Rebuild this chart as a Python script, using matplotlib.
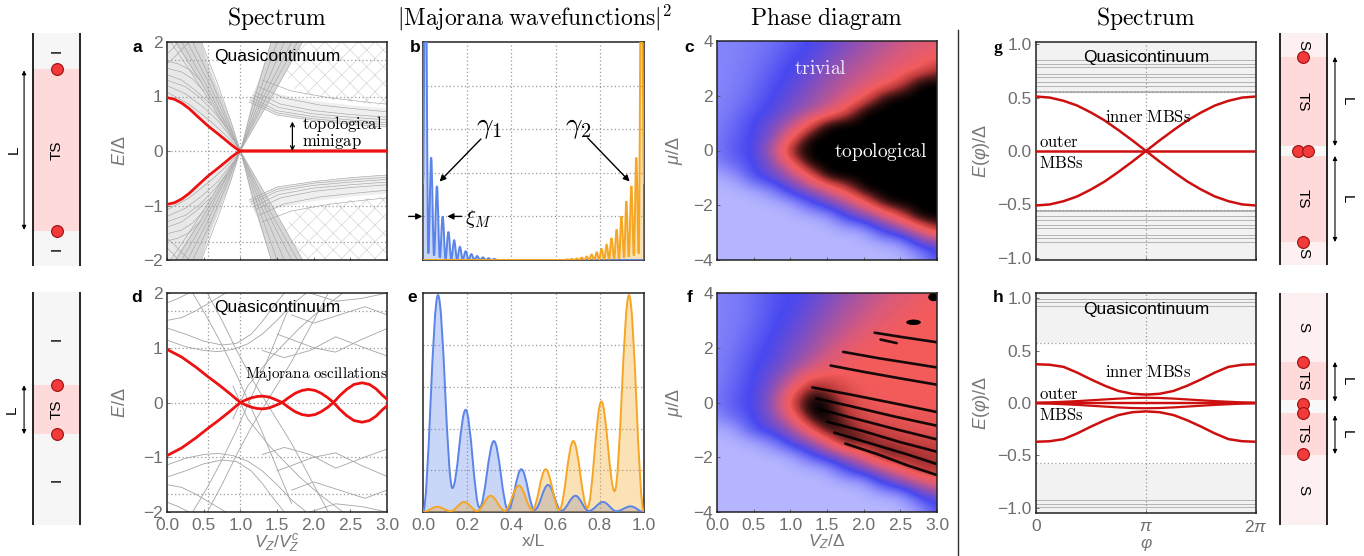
import numpy as np
import matplotlib
matplotlib.use("Agg")
import matplotlib.pyplot as plt
from matplotlib.patches import Polygon, PathPatch, Ellipse
from matplotlib.path import Path
from matplotlib.lines import Line2D
from matplotlib.colors import LinearSegmentedColormap

plt.rcParams['font.family'] = ['Liberation Sans', 'DejaVu Sans']
plt.rcParams['mathtext.fontset'] = 'custom'
plt.rcParams['mathtext.rm'] = 'Liberation Sans'
plt.rcParams['mathtext.it'] = 'Liberation Sans:italic'
plt.rcParams['mathtext.bf'] = 'Liberation Sans:bold'
plt.rcParams['hatch.linewidth'] = 0.5

W, H = 1364, 556
RED = '#ee1111'
DARKRED = '#cc1010'
GRAYLINE = '#a6a6a6'
TICKGRAY = '#6e6e6e'
BLUE = '#5b84e8'
ORANGE = '#f5a623'

# ---------------- panel a : spectrum of a long wire (upper half, mirrored E -> -E)
a_red_x = [0.0, 0.1, 0.2, 0.3, 0.42, 0.56, 0.7, 0.8, 0.88, 0.95, 1.0, 3.0]
a_red_y = [0.98, 0.95, 0.88, 0.78, 0.63, 0.46, 0.31, 0.2, 0.11, 0.04, 0.0, 0.0]
a_fan_x = [0.0, 0.3, 0.6, 0.8, 1.0, 0.87, 0.74, 0.6, 0.45, 0.0]
a_fan_y = [1.03, 0.8, 0.48, 0.24, 0.0, 0.55, 1.0, 1.5, 2.0, 2.0]
a_down_x = [0.1, 0.45, 0.65, 1.0, 0.86, 0.72, 0.58, 0.47]
a_down_y = [2.0, 1.25, 0.72, 0.0, 0.6, 1.05, 1.5, 2.0]
a_up_x = [1.0, 1.18, 1.42, 1.85, 1.43]
a_up_y = [0.0, 1.0, 2.0, 2.0, 1.0]
a_side_x = [1.18, 1.42, 1.75, 1.58, 1.3]
a_side_y = [1.0, 2.0, 2.0, 1.4, 1.15]
a_cont_x = [1.12, 1.5, 2.0, 2.5, 3.0, 3.0, 2.5, 2.0, 1.5, 1.22]
a_cont_y = [0.9, 0.66, 0.56, 0.49, 0.44, 0.78, 0.84, 0.92, 1.05, 1.2]
a_hatch_x = [1.8, 1.6, 1.75, 2.2, 3.0, 3.0]
a_hatch_y = [2.0, 1.45, 1.07, 0.95, 0.82, 2.0]
a_lines = [
    ([0.05, 0.4, 0.68, 1.0, 1.2, 1.42], [2.0, 1.3, 0.7, 0.0, -1.0, -2.0]),
    ([0.12, 0.45, 0.72, 1.0, 1.24, 1.5], [2.0, 1.3, 0.68, 0.0, -1.0, -2.0]),
    ([0.2, 0.5, 0.75, 1.0, 1.28, 1.6], [2.0, 1.3, 0.65, 0.0, -1.0, -2.0]),
    ([0.28, 0.55, 0.79, 1.0, 1.32, 1.7], [2.0, 1.3, 0.62, 0.0, -1.0, -2.0]),
    ([0.35, 0.6, 0.82, 1.0, 1.36, 1.78], [2.0, 1.3, 0.6, 0.0, -1.0, -2.0]),
    ([0.47, 0.7, 0.87, 1.0, 1.43, 1.85], [2.0, 1.2, 0.55, 0.0, -1.0, -2.0]),
    ([0.0, 0.3, 0.6, 0.8, 1.0], [1.08, 0.86, 0.54, 0.29, 0.02]),
    ([0.0, 0.25, 0.5, 0.7, 0.9], [1.2, 1.05, 0.8, 0.55, 0.2]),
    ([0.0, 0.25, 0.45, 0.65, 0.8], [1.3, 1.18, 0.98, 0.7, 0.45]),
    ([0.0, 0.2, 0.4, 0.6], [1.4, 1.3, 1.1, 0.85]),
    ([0.0, 0.2, 0.35, 0.5], [1.52, 1.45, 1.32, 1.1]),
    ([0.0, 0.15, 0.3, 0.45], [1.65, 1.6, 1.5, 1.3]),
    ([0.0, 0.1, 0.2, 0.3], [1.6, 1.72, 1.86, 2.0]),
    ([0.0, 0.08, 0.15], [1.78, 1.88, 2.0]),
    ([1.12, 1.5, 2.0, 2.5, 3.0], [0.9, 0.66, 0.56, 0.49, 0.44]),
    ([1.13, 1.5, 2.0, 2.5, 3.0], [0.94, 0.7, 0.59, 0.53, 0.48]),
    ([1.15, 1.5, 2.0, 2.5, 3.0], [0.98, 0.74, 0.63, 0.57, 0.52]),
    ([1.17, 1.52, 2.0, 2.5, 3.0], [1.03, 0.8, 0.68, 0.62, 0.57]),
    ([1.2, 1.55, 2.0, 2.5, 3.0], [1.08, 0.86, 0.74, 0.67, 0.62]),
    ([1.25, 1.6, 2.1, 2.6, 3.0], [1.18, 0.97, 0.84, 0.77, 0.72]),
    ([1.3, 1.7, 2.2, 2.7, 3.0], [1.3, 1.1, 0.98, 0.9, 0.86]),
]
a_vgrid = [0.56, 1.0]
a_hgrid = [-1.67, -1.0, 0.0, 1.0, 1.67]

# ---------------- panel d : spectrum of a short wire
d_red_x = [0.0, 0.2, 0.4, 0.56, 0.7, 0.85, 1.0, 1.08, 1.15, 1.23, 1.31, 1.39, 1.45, 1.52, 1.57,
           1.66, 1.75, 1.84, 1.93, 2.02, 2.1, 2.19, 2.27, 2.36, 2.45, 2.55, 2.66, 2.76, 2.85, 2.94, 3.0]
d_red_y = [0.97, 0.83, 0.64, 0.47, 0.33, 0.17, 0.0, -0.05, -0.085, -0.11, -0.116, -0.1, -0.07, -0.03, 0.0,
           0.09, 0.17, 0.22, 0.24, 0.22, 0.17, 0.09, 0.0, -0.13, -0.24, -0.33, -0.36, -0.33, -0.25, -0.13, -0.06]
d_lines = [
    ([0.0, 0.25, 0.5, 0.7, 0.9, 1.1, 1.3, 1.5, 1.7, 1.9], [1.14, 1.02, 0.95, 0.93, 0.97, 1.07, 1.25, 1.5, 1.78, 2.0]),
    ([0.0, 0.25, 0.5, 0.75, 0.95, 1.15, 1.3, 1.45, 1.6], [1.36, 1.25, 1.12, 1.05, 1.08, 1.25, 1.48, 1.75, 2.0]),
    ([0.0, 0.2, 0.4, 0.6, 0.8], [1.5, 1.55, 1.68, 1.84, 2.0]),
    ([0.0, 0.15, 0.3], [1.82, 1.9, 2.0]),
    ([0.35, 0.55, 0.75, 0.95, 1.1, 1.3, 1.5, 1.7], [2.0, 1.55, 1.05, 0.5, 0.05, -0.55, -1.2, -1.85]),
    ([0.55, 0.75, 0.95, 1.15, 1.4, 1.7, 2.0, 2.2], [2.0, 1.5, 0.95, 0.45, -0.1, -0.75, -1.5, -2.0]),
    ([0.9, 1.1, 1.4, 1.8, 2.1, 2.4], [0.3, -0.3, -0.8, -1.35, -1.7, -2.0]),
    ([1.3, 1.6, 1.95, 2.3, 2.65, 3.0], [0.95, 0.82, 0.95, 1.2, 1.02, 0.85]),
    ([1.5, 1.8, 2.0, 2.3, 2.65, 3.0], [1.25, 1.1, 1.0, 0.92, 1.15, 1.35]),
    ([1.7, 2.0, 2.35, 2.7, 3.0], [1.6, 1.45, 1.6, 1.75, 1.6]),
    ([1.95, 2.3, 2.65, 3.0], [2.0, 1.85, 1.9, 2.0]),
]
d_vgrid = [0.56, 1.0]
d_hgrid = [-1.68, -1.0, 0.0, 1.0, 1.68]

# ---------------- panels b, e : |Majorana wavefunctions|^2 (extrema)
b_blue_x = [0.0, 0.011, 0.024, 0.037, 0.05, 0.063, 0.076, 0.089, 0.102, 0.115, 0.128, 0.141, 0.154, 0.167,
            0.18, 0.193, 0.206, 0.219, 0.232, 0.245, 0.258, 0.271, 0.284, 0.297, 0.31, 0.323, 0.336, 0.36, 1.0]
b_blue_y = [0.35, 1.6, 0.03, 0.47, 0.02, 0.34, 0.01, 0.2, 0.006, 0.13, 0.004, 0.09, 0.003, 0.06,
            0.002, 0.04, 0.001, 0.027, 0.0, 0.018, 0.0, 0.012, 0.0, 0.008, 0.0, 0.005, 0.0, 0.0, 0.0]
b_orange_x = [0.0, 0.62, 0.64, 0.651, 0.662, 0.673, 0.685, 0.696, 0.707, 0.718, 0.73, 0.741, 0.752, 0.763, 0.775,
              0.786, 0.797, 0.808, 0.82, 0.831, 0.842, 0.853, 0.865, 0.876, 0.887, 0.898, 0.91, 0.92,
              0.931, 0.943, 0.954, 0.965, 0.976, 0.988, 1.0]
b_orange_y = [0.0, 0.0, 0.0, 0.003, 0.0, 0.005, 0.0, 0.007, 0.0, 0.011, 0.0, 0.016, 0.001, 0.025, 0.001,
              0.035, 0.002, 0.05, 0.003, 0.07, 0.004, 0.1, 0.005, 0.14, 0.007, 0.2, 0.01, 0.27,
              0.015, 0.34, 0.02, 0.47, 0.03, 1.6, 0.35]
e_blue_x = [0.0, 0.068, 0.133, 0.193, 0.256, 0.321, 0.385, 0.445, 0.505, 0.566, 0.626, 0.69, 0.75, 0.815, 0.875, 0.94, 1.0]
e_blue_y = [0.0, 1.04, 0.115, 0.49, 0.02, 0.34, 0.01, 0.205, 0.01, 0.13, 0.006, 0.078, 0.005, 0.048, 0.004, 0.027, 0.0]
e_orange_x = [0.0, 0.065, 0.125, 0.186, 0.245, 0.306, 0.37, 0.434, 0.495, 0.555, 0.617, 0.68, 0.744, 0.807, 0.867, 0.932, 1.0]
e_orange_y = [0.0, 0.025, 0.004, 0.048, 0.005, 0.078, 0.006, 0.127, 0.01, 0.205, 0.01, 0.34, 0.02, 0.53, 0.1, 1.04, 0.0]
wf_grid = [0.2, 0.4, 0.6, 0.8]

# ---------------- panels c, f : phase diagrams (rows mu = 4 ... -4 step 0.5, cols Vz = 0 ... 3 step 0.25)
c_map = [
    [0.13, 0.14, 0.16, 0.19, 0.24, 0.30, 0.36, 0.44, 0.50, 0.56, 0.62, 0.67, 0.71],
    [0.13, 0.14, 0.17, 0.21, 0.28, 0.32, 0.40, 0.48, 0.55, 0.61, 0.67, 0.72, 0.76],
    [0.13, 0.15, 0.18, 0.24, 0.31, 0.37, 0.46, 0.54, 0.60, 0.66, 0.72, 0.78, 0.88],
    [0.13, 0.15, 0.20, 0.27, 0.33, 0.42, 0.51, 0.58, 0.65, 0.72, 0.84, 1.00, 1.00],
    [0.14, 0.16, 0.22, 0.30, 0.38, 0.47, 0.56, 0.64, 0.76, 0.97, 1.00, 1.00, 1.00],
    [0.14, 0.18, 0.26, 0.32, 0.42, 0.52, 0.62, 0.80, 1.00, 1.00, 1.00, 1.00, 1.00],
    [0.15, 0.21, 0.30, 0.40, 0.55, 0.78, 1.00, 1.00, 1.00, 1.00, 1.00, 1.00, 1.00],
    [0.16, 0.24, 0.31, 0.45, 0.76, 1.00, 1.00, 1.00, 1.00, 1.00, 1.00, 1.00, 1.00],
    [0.17, 0.26, 0.31, 0.58, 0.95, 1.00, 1.00, 1.00, 1.00, 1.00, 1.00, 1.00, 1.00],
    [0.12, 0.22, 0.30, 0.45, 0.76, 1.00, 1.00, 1.00, 1.00, 1.00, 1.00, 1.00, 1.00],
    [0.02, 0.06, 0.28, 0.36, 0.50, 0.76, 1.00, 1.00, 1.00, 1.00, 1.00, 1.00, 1.00],
    [0.00, 0.00, 0.02, 0.12, 0.32, 0.45, 0.62, 0.82, 1.00, 1.00, 1.00, 1.00, 1.00],
    [0.00, 0.00, 0.00, 0.00, 0.02, 0.20, 0.34, 0.50, 0.72, 0.97, 1.00, 1.00, 1.00],
    [0.00, 0.00, 0.00, 0.00, 0.00, 0.00, 0.03, 0.25, 0.36, 0.55, 0.80, 1.00, 1.00],
    [0.00, 0.00, 0.00, 0.00, 0.00, 0.00, 0.00, 0.00, 0.03, 0.25, 0.36, 0.62, 0.86],
    [0.00, 0.00, 0.00, 0.00, 0.00, 0.00, 0.00, 0.00, 0.00, 0.00, 0.03, 0.25, 0.36],
    [0.00, 0.00, 0.00, 0.00, 0.00, 0.00, 0.00, 0.00, 0.00, 0.00, 0.00, 0.05, 0.28],
]
f_map = [
    [0.14, 0.16, 0.20, 0.26, 0.30, 0.34, 0.42, 0.50, 0.56, 0.62, 0.68, 0.72, 0.76],
    [0.14, 0.16, 0.20, 0.27, 0.31, 0.38, 0.46, 0.54, 0.60, 0.66, 0.72, 0.76, 0.78],
    [0.14, 0.16, 0.21, 0.28, 0.33, 0.42, 0.50, 0.58, 0.64, 0.70, 0.76, 0.78, 0.78],
    [0.14, 0.17, 0.23, 0.30, 0.37, 0.46, 0.55, 0.62, 0.70, 0.76, 0.78, 0.78, 0.78],
    [0.14, 0.18, 0.26, 0.32, 0.41, 0.50, 0.60, 0.70, 0.76, 0.78, 0.78, 0.78, 0.78],
    [0.15, 0.20, 0.28, 0.34, 0.45, 0.56, 0.68, 0.76, 0.78, 0.78, 0.78, 0.78, 0.78],
    [0.15, 0.21, 0.30, 0.40, 0.55, 0.74, 0.80, 0.78, 0.78, 0.78, 0.78, 0.78, 0.78],
    [0.16, 0.24, 0.31, 0.45, 0.70, 0.95, 0.90, 0.82, 0.78, 0.78, 0.78, 0.78, 0.78],
    [0.17, 0.26, 0.31, 0.50, 0.86, 1.00, 1.00, 0.86, 0.80, 0.78, 0.78, 0.78, 0.78],
    [0.12, 0.22, 0.30, 0.45, 0.72, 1.00, 1.00, 0.90, 0.82, 0.80, 0.80, 0.80, 0.80],
    [0.02, 0.06, 0.28, 0.36, 0.50, 0.78, 1.00, 0.95, 0.88, 0.85, 0.82, 0.80, 0.80],
    [0.00, 0.00, 0.02, 0.12, 0.32, 0.45, 0.70, 0.98, 0.95, 0.90, 0.88, 0.86, 0.85],
    [0.00, 0.00, 0.00, 0.00, 0.02, 0.20, 0.34, 0.50, 0.72, 0.95, 0.92, 0.90, 0.88],
    [0.00, 0.00, 0.00, 0.00, 0.00, 0.00, 0.03, 0.25, 0.36, 0.55, 0.76, 0.90, 0.90],
    [0.00, 0.00, 0.00, 0.00, 0.00, 0.00, 0.00, 0.00, 0.03, 0.25, 0.36, 0.55, 0.72],
    [0.00, 0.00, 0.00, 0.00, 0.00, 0.00, 0.00, 0.00, 0.00, 0.00, 0.03, 0.25, 0.36],
    [0.00, 0.00, 0.00, 0.00, 0.00, 0.00, 0.00, 0.00, 0.00, 0.00, 0.00, 0.05, 0.28],
]
f_stripes = [
    ([1.3, 1.8, 2.4, 3.0], [0.55, 0.3, -0.02, -0.35]),
    ([1.35, 1.8, 2.4, 3.0], [0.15, -0.12, -0.5, -0.85]),
    ([1.4, 1.9, 2.4, 3.0], [-0.25, -0.6, -0.95, -1.35]),
    ([1.5, 2.0, 2.5, 3.0], [-0.7, -1.05, -1.45, -1.8]),
    ([1.6, 2.1, 2.6, 3.0], [-1.1, -1.5, -1.9, -2.25]),
    ([1.75, 2.2, 2.6, 3.0], [-1.5, -1.9, -2.3, -2.65]),
    ([1.72, 2.2, 2.6, 3.0], [1.85, 1.62, 1.45, 1.28]),
    ([1.55, 2.0, 2.5, 3.0], [1.35, 1.12, 0.88, 0.65]),
    ([2.15, 2.5, 3.0], [2.55, 2.4, 2.2]),
    ([2.23, 2.45], [2.3, 2.17]),
]
f_blob_x = [2.68, 2.95]
f_blob_y = [2.93, 3.85]
f_blob_w = [0.2, 0.14]
f_blob_h = [0.2, 0.3]

# ---------------- panels g, h : spectrum vs phase
phi_over_pi = [0, 0.125, 0.25, 0.375, 0.5, 0.625, 0.75, 0.875, 1.0, 1.125, 1.25, 1.375, 1.5, 1.625, 1.75, 1.875, 2.0]
g_inner = [0.51, 0.50, 0.47, 0.425, 0.36, 0.285, 0.195, 0.10, 0.0, -0.10, -0.195, -0.285, -0.36, -0.425, -0.47, -0.50, -0.51]
g_cont = [0.548, 0.556, 0.565, 0.605, 0.645, 0.69, 0.725, 0.785, 0.815, 0.85]
g_gap = 0.555
h_inner = [0.37, 0.365, 0.345, 0.29, 0.225, 0.165, 0.115, 0.088, 0.08, 0.088, 0.115, 0.165, 0.225, 0.29, 0.345, 0.365, 0.37]
h_lens = [0.003, 0.006, 0.012, 0.018, 0.026, 0.034, 0.042, 0.048, 0.05, 0.048, 0.042, 0.034, 0.026, 0.018, 0.012, 0.006, 0.003]
h_cont = [0.925, 0.965, 0.995]
h_gap = 0.575

# ---------------- schematics
sch_left_top = dict(labels=['I', 'TS', 'I'], lengths=[0.155, 0.695, 0.15],
                    colors=['#f6f6f6', '#ffdada', '#f6f6f6'], dots=[(0.51, 0.155), (0.51, 0.85)],
                    arrows=[(0.16, 0.845)])
sch_left_bot = dict(labels=['I', 'TS', 'I'], lengths=[0.40, 0.21, 0.39],
                    colors=['#f6f6f6', '#ffdada', '#f6f6f6'], dots=[(0.51, 0.40), (0.51, 0.61)],
                    arrows=[(0.40, 0.61)])
sch_right_top = dict(labels=['S', 'TS', '', 'TS', 'S'], lengths=[0.103, 0.384, 0.043, 0.371, 0.099],
                     colors=['#fdf0f0', '#ffdada', '#f8f8f8', '#ffdada', '#fdf0f0'],
                     dots=[(0.49, 0.103), (0.38, 0.508), (0.6, 0.508), (0.49, 0.901)],
                     arrows=[(0.103, 0.487), (0.53, 0.901)])
sch_right_bot = dict(labels=['S', 'TS', '', 'TS', 'S'], lengths=[0.297, 0.164, 0.056, 0.181, 0.302],
                     colors=['#fdf0f0', '#ffdada', '#f8f8f8', '#ffdada', '#fdf0f0'],
                     dots=[(0.49, 0.297), (0.49, 0.478), (0.49, 0.517), (0.49, 0.694)],
                     arrows=[(0.297, 0.468), (0.527, 0.694)])


def cm(s):
    return r'$\mathrm{' + s.replace(' ', r'\ ') + '}$'


fig = plt.figure(figsize=(W / 100, H / 100), dpi=100)


def px_axes(x0, y0, x1, y1):
    return fig.add_axes([x0 / W, 1 - y1 / H, (x1 - x0) / W, (y1 - y0) / H])


def style(ax):
    for s in ax.spines.values():
        s.set_linewidth(1.1)
        s.set_color('#222222')
    ax.tick_params(direction='in', length=2.5, width=0.6, colors='#555555',
                   labelcolor=TICKGRAY, labelsize=12.5, pad=3)
    ax.tick_params(axis='x', pad=4)


def dotted_grid(ax, xs, ys):
    for v in xs:
        ax.axvline(v, color='#9a9a9a', ls=(0, (1, 2)), lw=0.9, zorder=2)
    for h in ys:
        ax.axhline(h, color='#9a9a9a', ls=(0, (1, 2)), lw=0.9, zorder=2)


def wave(ax, xs, ys, color):
    verts = [(xs[0], ys[0])]
    codes = [Path.MOVETO]
    for i in range(len(xs) - 1):
        dx = xs[i + 1] - xs[i]
        verts += [(xs[i] + 0.36 * dx, ys[i]), (xs[i + 1] - 0.36 * dx, ys[i + 1]), (xs[i + 1], ys[i + 1])]
        codes += [Path.CURVE4] * 3
    fill_v = verts + [(xs[-1], 0), (xs[0], 0), (xs[0], ys[0])]
    fill_c = codes + [Path.LINETO, Path.LINETO, Path.CLOSEPOLY]
    ax.add_patch(PathPatch(Path(fill_v, fill_c), fc=color, ec='none', alpha=0.33, zorder=3))
    ax.add_patch(PathPatch(Path(verts, codes), fc='none', ec=color, lw=1.4, zorder=4))


def panel_label(x, y, s, serif=False):
    fam = ['Liberation Serif'] if serif else ['Liberation Sans']
    fig.text(x / W, 1 - y / H, s, fontsize=12.5, fontweight='bold', family=fam, ha='center', va='center')


# ======== panel a
ax = px_axes(167, 42, 387, 260)
style(ax)
ax.set_xlim(0, 3)
ax.set_ylim(-2, 2)
for sg in (1, -1):
    for xs, ys, col in [(a_fan_x, a_fan_y, '#e8e8e8'), (a_side_x, a_side_y, '#f0f0f0'),
                        (a_cont_x, a_cont_y, '#efefef'),
                        (a_down_x, a_down_y, '#d7d7d7'), (a_up_x, a_up_y, '#d7d7d7')]:
        ax.add_patch(Polygon(np.column_stack([xs, sg * np.array(ys)]), closed=True, fc=col, ec='none', zorder=1))
    ax.add_patch(Polygon(np.column_stack([a_hatch_x, sg * np.array(a_hatch_y)]), closed=True,
                         fc='none', ec='#d6d6d6', hatch='xx', lw=0, zorder=1))
    for xs, ys in a_lines:
        ax.plot(xs, sg * np.array(ys), color=GRAYLINE, lw=0.45, zorder=2)
    ax.plot(a_red_x, sg * np.array(a_red_y), color=RED, lw=2.0, zorder=5, solid_capstyle='round')
dotted_grid(ax, a_vgrid, a_hgrid)
ax.set_xticks([0, 0.5, 1, 1.5, 2, 2.5, 3])
ax.set_xticklabels([])
ax.set_yticks([-2, -1, 0, 1, 2])
ax.set_ylabel(r'$E/\Delta$', fontsize=13, color='#777777', labelpad=10)
ax.text(1.5, 1.73, 'Quasicontinuum', fontsize=12.5, ha='center', va='center', zorder=6)
ax.annotate('', xy=(1.71, 0.54), xytext=(1.71, 0.0),
            arrowprops=dict(arrowstyle='<->', lw=0.9, color='k', shrinkA=0, shrinkB=0, mutation_scale=7), zorder=6)
ax.text(1.84, 0.5, cm('topological'), math_fontfamily='cm', fontsize=12, ha='left', va='center', zorder=6)
ax.text(1.84, 0.17, cm('minigap'), math_fontfamily='cm', fontsize=12, ha='left', va='center', zorder=6)

# ======== panel d
ax = px_axes(167, 293, 387, 512)
style(ax)
ax.set_xlim(0, 3)
ax.set_ylim(-2, 2)
for sg in (1, -1):
    for xs, ys in d_lines:
        ax.plot(xs, sg * np.array(ys), color='#a4a4a4', lw=0.6, zorder=2)
    ax.plot(d_red_x, sg * np.array(d_red_y), color=RED, lw=2.0, zorder=5)
dotted_grid(ax, d_vgrid, d_hgrid)
ax.set_xticks([0, 0.5, 1, 1.5, 2, 2.5, 3])
ax.set_xticklabels(['0.0', '0.5', '1.0', '1.5', '2.0', '2.5', '3.0'])
ax.set_yticks([-2, -1, 0, 1, 2])
ax.set_ylabel(r'$E/\Delta$', fontsize=13, color='#777777', labelpad=10)
ax.set_xlabel(r'$V_Z/V_Z^c$', fontsize=12.5, color='#777777', labelpad=0)
ax.text(1.5, 1.73, 'Quasicontinuum', fontsize=12.5, ha='center', va='center', zorder=6)
ax.text(2.03, 0.52, cm('Majorana oscillations'), math_fontfamily='cm', fontsize=11, ha='center', va='center', zorder=6)

# ======== panel b
ax = px_axes(423, 42, 644, 260)
style(ax)
ax.set_xlim(0, 1)
ax.set_ylim(0, 1)
dotted_grid(ax, wf_grid, wf_grid)
wave(ax, b_blue_x, b_blue_y, BLUE)
wave(ax, b_orange_x, b_orange_y, ORANGE)
ax.set_xticks(wf_grid)
ax.set_yticks(wf_grid)
ax.set_xticklabels([])
ax.set_yticklabels([])
ax.tick_params(length=0)
arr = dict(arrowstyle='-|>', lw=1.0, color='k', mutation_scale=9, shrinkA=0, shrinkB=0)
ax.annotate('', xy=(0.075, 0.36), xytext=(0.262, 0.555), arrowprops=arr)
ax.annotate('', xy=(0.935, 0.36), xytext=(0.745, 0.56), arrowprops=arr)
ax.text(0.30, 0.61, r'$\gamma_1$', math_fontfamily='cm', fontsize=21, ha='center', va='center')
ax.text(0.70, 0.61, r'$\gamma_2$', math_fontfamily='cm', fontsize=21, ha='center', va='center')
ax.annotate('', xy=(0.11, 0.2), xytext=(0.175, 0.2), arrowprops=arr)
ax.annotate('', xy=(-0.003, 0.2), xytext=(-0.065, 0.2), arrowprops=arr, annotation_clip=False)
ax.text(0.19, 0.19, r'$\xi_M$', math_fontfamily='cm', fontsize=15, ha='left', va='center')

# ======== panel e
ax = px_axes(423, 293, 644, 512)
style(ax)
ax.set_xlim(0, 1)
ax.set_ylim(0, 1.05)
dotted_grid(ax, wf_grid, wf_grid)
wave(ax, e_blue_x, e_blue_y, BLUE)
wave(ax, e_orange_x, e_orange_y, ORANGE)
ax.set_xticks([0, 0.2, 0.4, 0.6, 0.8, 1.0])
ax.set_xticklabels(['0.0', '0.2', '0.4', '0.6', '0.8', '1.0'])
ax.set_yticks([])
ax.tick_params(length=0)
ax.set_xlabel('x/L', fontsize=12.5, color='#777777', labelpad=1)

# ======== panels c, f
phase_cmap = LinearSegmentedColormap.from_list('phase', [
    (0.0, '#b4b4ff'), (0.14, '#8282fa'), (0.3, '#4848f0'), (0.5, '#9552b0'),
    (0.66, '#d85a7c'), (0.78, '#f45c5c'), (0.88, '#b83838'), (1.0, '#000000')])
for box, grid, bottom in [((717, 41, 937, 260), c_map, False), ((717, 293, 937, 512), f_map, True)]:
    ax = px_axes(*box)
    style(ax)
    ax.imshow(np.array(grid), cmap=phase_cmap, vmin=0, vmax=1, extent=[-0.125, 3.125, -4.25, 4.25],
              aspect='auto', interpolation='bicubic', origin='upper')
    ax.set_xlim(0, 3)
    ax.set_ylim(-4, 4)
    ax.set_yticks([-4, -2, 0, 2, 4])
    ax.set_xticks([0, 0.5, 1, 1.5, 2, 2.5, 3])
    ax.set_ylabel(r'$\mu/\Delta$', fontsize=13, color='#777777', labelpad=6)
    if bottom:
        ax.set_xticklabels(['0.0', '0.5', '1.0', '1.5', '2.0', '2.5', '3.0'])
        ax.set_xlabel(r'$V_Z/\Delta$', fontsize=12.5, color='#777777', labelpad=0)
        for xs, ys in f_stripes:
            ax.plot(xs, ys, color='k', lw=1.9, alpha=0.9, solid_capstyle='round')
        for bx, by, bw, bh in zip(f_blob_x, f_blob_y, f_blob_w, f_blob_h):
            ax.add_patch(Ellipse((bx, by), bw, bh, angle=0, fc='k', ec='none'))
    else:
        ax.set_xticklabels([])
        ax.text(1.41, 2.97, cm('trivial'), math_fontfamily='cm', fontsize=14, color='#eeeeff', ha='center', va='center')
        ax.text(2.23, -0.06, cm('topological'), math_fontfamily='cm', fontsize=14, color='white', ha='center', va='center')

# ======== panels g, h
phi = np.pi * np.array(phi_over_pi)
for box, inner, cont, gap, ylim, bottom in [((1036, 42, 1256, 260), g_inner, g_cont, g_gap, 1.02, False),
                                            ((1036, 293, 1256, 513), h_inner, h_cont, h_gap, 1.05, True)]:
    ax = px_axes(*box)
    style(ax)
    ax.set_facecolor('#f2f2f2')
    ax.axhspan(-gap, gap, color='white', zorder=0)
    ax.set_xlim(0, 2 * np.pi)
    ax.set_ylim(-ylim, ylim)
    for lv in cont:
        ax.axhline(lv, color='#b4b4b4', lw=0.7, zorder=1)
        ax.axhline(-lv, color='#b4b4b4', lw=0.7, zorder=1)
    dotted_grid(ax, [np.pi], [-gap, gap] + ([0.0] if bottom else []))
    inner = np.array(inner)
    ax.plot(phi, inner, color=DARKRED, lw=1.8, zorder=5)
    ax.plot(phi, -inner, color=DARKRED, lw=1.8, zorder=5)
    if bottom:
        lens = np.array(h_lens)
        ax.plot(phi, lens, color=DARKRED, lw=1.6, zorder=5)
        ax.plot(phi, -lens, color=DARKRED, lw=1.6, zorder=5)
        ax.plot([0, 2 * np.pi], [0.004, 0.004], color=DARKRED, lw=1.6, zorder=5)
        ax.plot([0, 2 * np.pi], [-0.004, -0.004], color=DARKRED, lw=1.6, zorder=5)
    else:
        ax.plot([0, 2 * np.pi], [0, 0], color=DARKRED, lw=1.8, zorder=5)
    ax.set_yticks([-1, -0.5, 0, 0.5, 1])
    ax.set_yticklabels(['\u22121.0', '\u22120.5', '0.0', '0.5', '1.0'])
    ax.set_xticks([0, np.pi, 2 * np.pi])
    ax.set_ylabel(r'$E(\varphi)/\Delta$', fontsize=13, color='#777777', labelpad=4)
    qy = 0.895 if bottom else 0.875
    iy = 0.30 if bottom else 0.32
    ax.text(np.pi, qy, 'Quasicontinuum', fontsize=12.5, ha='center', va='center', zorder=6)
    ax.text(3.2, iy, cm('inner MBSs'), math_fontfamily='cm', fontsize=12, ha='center', va='center', zorder=6)
    ax.text(0.08, 0.08, cm('outer'), math_fontfamily='cm', fontsize=12, ha='left', va='center', zorder=6)
    ax.text(0.08, -0.11, cm('MBSs'), math_fontfamily='cm', fontsize=12, ha='left', va='center', zorder=6)
    if bottom:
        ax.set_xticklabels(['0', r'$\pi$', r'$2\pi$'])
        ax.set_xlabel(r'$\varphi$', fontsize=12.5, color='#777777', labelpad=1)
    else:
        ax.set_xticklabels([])


# ======== schematics
def wire(box, wx0, wx1, spec, rot, arrow_x, L_x):
    x0, y0, x1, y1 = box
    ax = px_axes(x0, y0, x1, y1)
    sc = wx1 - wx0
    ax.set_xlim((x0 - wx0) / sc, (x1 - wx0) / sc)
    ax.set_ylim(1, 0)
    ax.axis('off')
    top = 0.0
    for lab, ln, col in zip(spec['labels'], spec['lengths'], spec['colors']):
        ax.fill_between([0, 1], top, top + ln, color=col, lw=0, zorder=1)
        if lab:
            ax.text(0.51 if rot == 90 else 0.49, top + ln / 2, lab, rotation=rot, fontsize=11,
                    ha='center', va='center', zorder=3)
        top += ln
    ax.plot([0, 0], [0, 1], color='k', lw=1.2, zorder=2)
    ax.plot([1, 1], [0, 1], color='k', lw=1.2, zorder=2)
    for dx, dy in spec['dots']:
        ax.plot(dx, dy, 'o', ms=8.5, mfc='#f23a3a', mec='#9a1010', mew=0.8, zorder=4, clip_on=False)
    for a0, a1 in spec['arrows']:
        ax.annotate('', xy=(arrow_x, a1), xytext=(arrow_x, a0),
                    arrowprops=dict(arrowstyle='<|-|>', lw=0.8, color='k', shrinkA=0, shrinkB=0, mutation_scale=6))
        ax.text(L_x, (a0 + a1) / 2, 'L', rotation=rot, fontsize=11, ha='center', va='center')


wire((0, 33, 95, 266), 33, 80, sch_left_top, 90, -0.19, -0.42)
wire((0, 292, 95, 525), 33, 80, sch_left_bot, 90, -0.19, -0.45)
wire((1268, 33, 1364, 265), 1280, 1327, sch_right_top, 270, 1.17, 1.42)
wire((1268, 293, 1364, 525), 1280, 1327, sch_right_bot, 270, 1.17, 1.42)

# ======== titles, labels, separator
for xc, t in [(277, r'$\mathrm{Spectrum}$'), (534, r'$|\mathrm{Majorana\ wavefunctions}|^2$'),
              (827, r'$\mathrm{Phase\ diagram}$'), (1146, r'$\mathrm{Spectrum}$')]:
    fig.text(xc / W, 1 - 18 / H, t, math_fontfamily='cm', fontsize=17, ha='center', va='center')

for x, y, s in [(137, 47, 'a'), (415, 47, 'b'), (689, 47, 'c'), (137, 297, 'd'),
                (412, 297, 'e'), (690, 297, 'f'), (998, 297, 'h')]:
    panel_label(x, y, s)
panel_label(998, 48, 'g', serif=True)

fig.add_artist(Line2D([958 / W, 958 / W], [0, 1 - 30 / H], color='#333333', lw=1.0))

fig.savefig('out.png', dpi=100)
